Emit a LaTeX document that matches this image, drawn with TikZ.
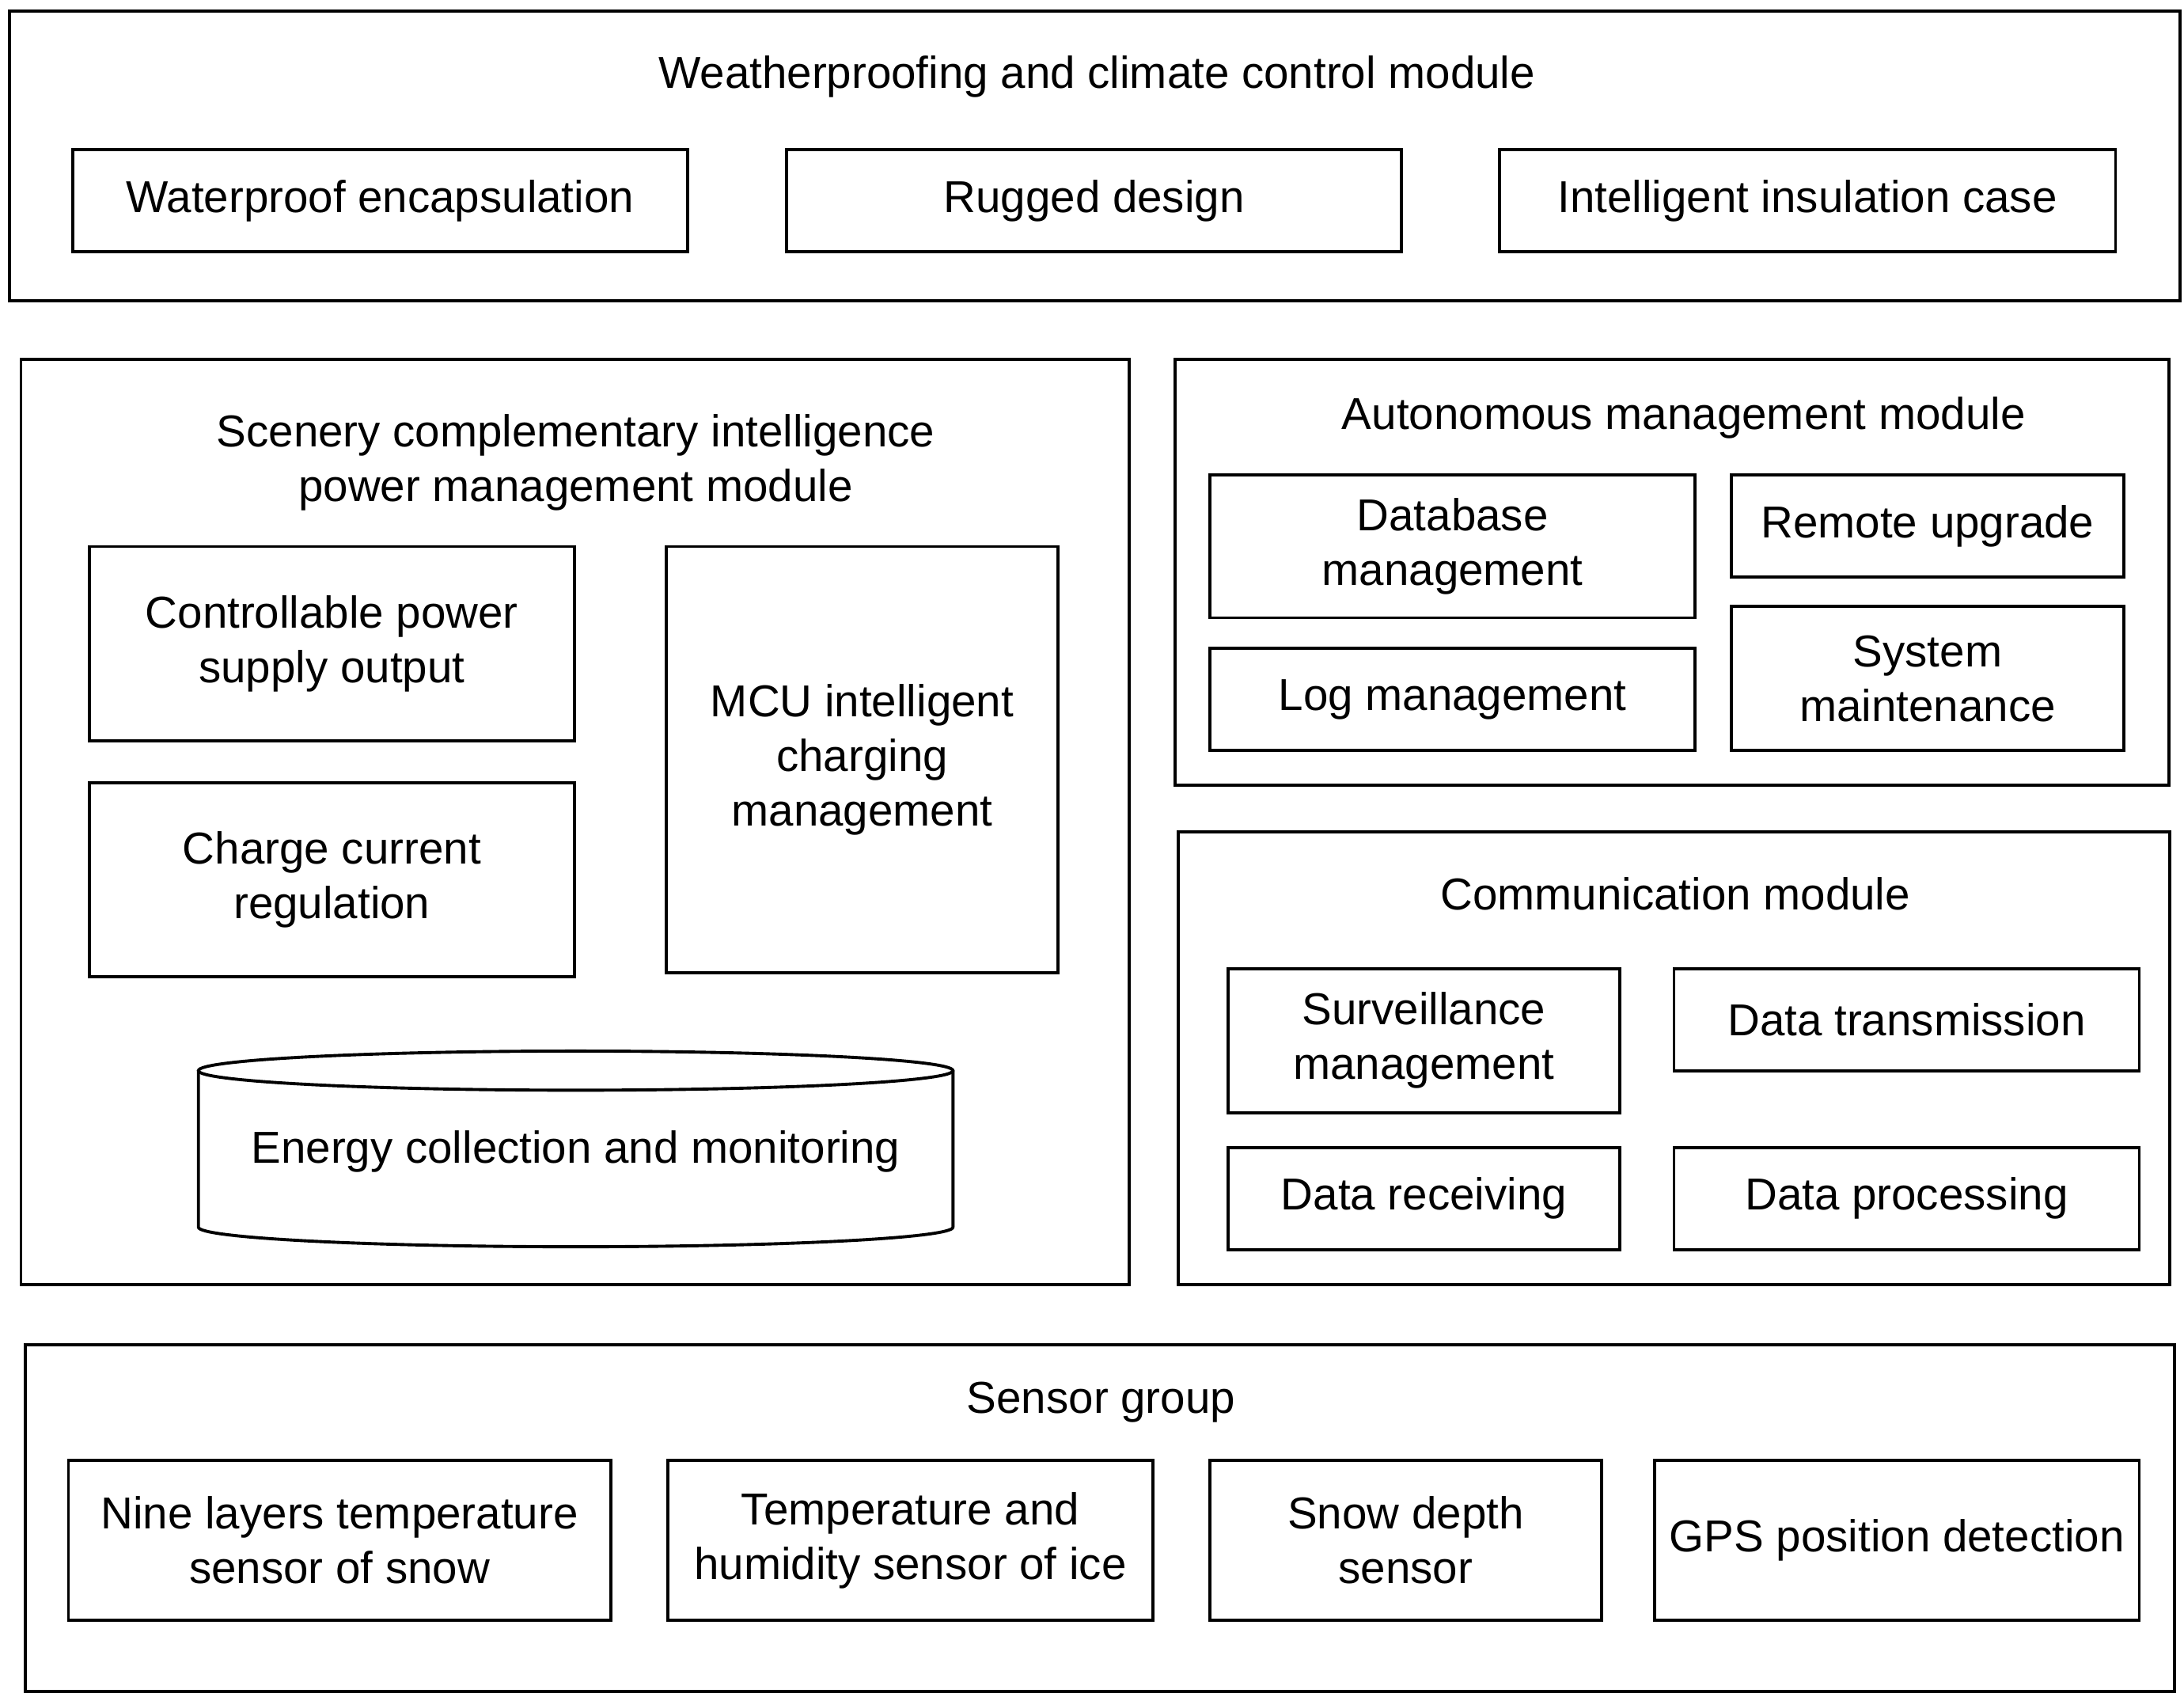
\documentclass[tikz,border=0pt]{standalone}
\usepackage{fontspec}
\setmainfont{Liberation Sans}
\begin{document}
\begin{tikzpicture}[x=1pt,y=-1pt,
  box/.style={draw, line width=2.2pt, inner sep=0pt, align=center, font=\fontsize{32}{39}\selectfont},
  ttl/.style={inner sep=0pt, align=center, font=\fontsize{32}{39}\selectfont}]
\useasboundingbox[fill=white] (0,0) rectangle (1563,1213.6);

% Weatherproofing module
\node[box, minimum width=1553, minimum height=207] (wmod) at (783.5,111.5) {};
\node[ttl] (wtitle) at (785,55) {Weatherproofing and climate control module};
\node[box, minimum width=440, minimum height=73] (waterproof) at (272,143.5) {Waterproof encapsulation};
\node[box, minimum width=440, minimum height=73] (rugged) at (783,143.5) {Rugged design};
\node[box, minimum width=441, minimum height=73] (insul) at (1293.5,143.5) {Intelligent insulation case};

% Power management module
\node[box, minimum width=793, minimum height=662] (pmod) at (411.5,588) {};
\node[ttl] (ptitle) at (412,331) {Scenery complementary intelligence\\power management module};
\node[box, minimum width=347, minimum height=139] (ctrl) at (237.5,460.5) {Controllable power\\supply output};
\node[box, minimum width=347, minimum height=139] (charge) at (237.5,629.5) {Charge current\\regulation};
\node[box, minimum width=280, minimum height=305] (mcu) at (617,543.5) {MCU intelligent\\charging\\management};
\draw[line width=2.2pt] (412,766) ellipse [x radius=270, y radius=14];
\draw[line width=2.2pt, line join=round] (142,766) -- (142,878)
  .. controls (142,885.7) and (263,892) .. (412,892)
  .. controls (561,892) and (682,885.7) .. (682,878) -- (682,766);
\node[ttl] (energy) at (412,824) {Energy collection and monitoring};

% Autonomous management module
\node[box, minimum width=711, minimum height=305] (amod) at (1196.5,409.5) {};
\node[ttl] (atitle) at (1205,299) {Autonomous management module};
\node[box, minimum width=347, minimum height=102] (db) at (1039.5,391) {Database\\management};
\node[box, minimum width=281, minimum height=73] (remote) at (1379.5,376.5) {Remote upgrade};
\node[box, minimum width=347, minimum height=73] (log) at (1039.5,500.5) {Log management};
\node[box, minimum width=281, minimum height=103] (sysm) at (1379.5,485.5) {System\\maintenance};

% Communication module
\node[box, minimum width=710, minimum height=324] (cmod) at (1198,757) {};
\node[ttl] (ctitle) at (1199,639.5) {Communication module};
\node[box, minimum width=280, minimum height=103] (surv) at (1019,744.5) {Surveillance\\management};
\node[box, minimum width=333, minimum height=73] (dtrans) at (1364.5,729.5) {Data transmission};
\node[box, minimum width=280, minimum height=73] (drecv) at (1019,857.5) {Data receiving};
\node[box, minimum width=333, minimum height=73] (dproc) at (1364.5,857.5) {Data processing};

% Sensor group
\node[box, minimum width=1538, minimum height=248] (smod) at (787,1086) {};
\node[ttl] (stitle) at (788,1003) {Sensor group};
\node[box, minimum width=388, minimum height=114] (nine) at (243,1102) {Nine layers temperature\\sensor of snow};
\node[box, minimum width=347, minimum height=114] (temp) at (651.5,1102) {Temperature and\\humidity sensor of ice};
\node[box, minimum width=280, minimum height=114] (snow) at (1006,1102) {Snow depth\\sensor};
\node[box, minimum width=347, minimum height=114] (gps) at (1357.5,1102) {GPS position detection};
\end{tikzpicture}
\end{document}
